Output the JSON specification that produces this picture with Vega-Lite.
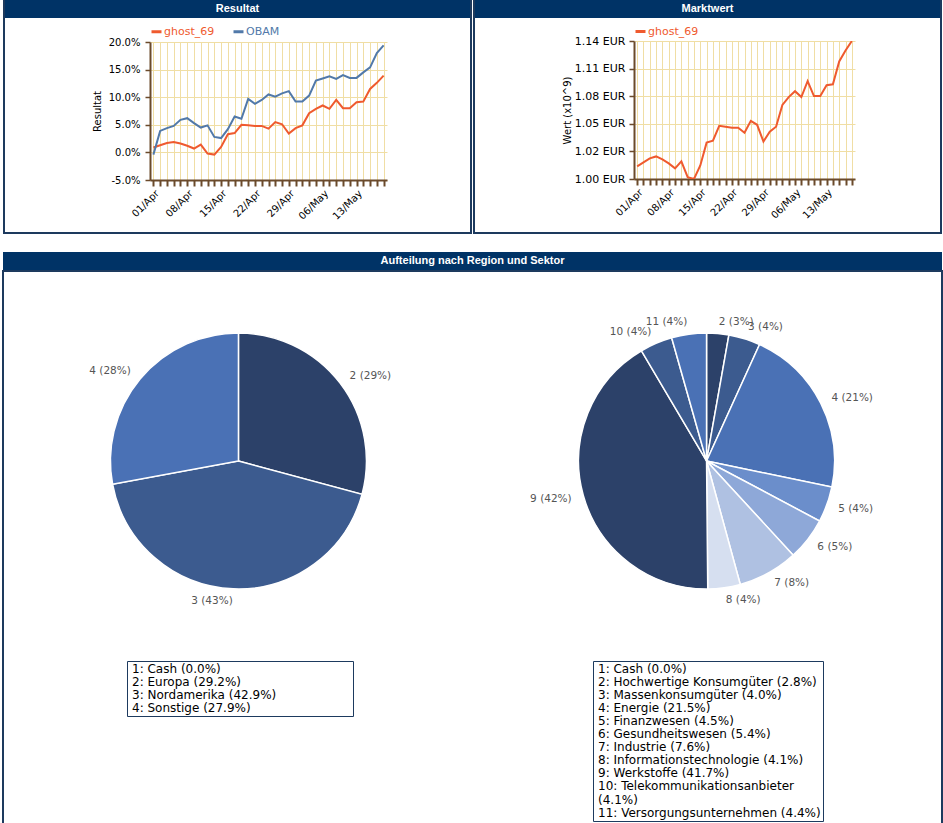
{
  "$schema": "https://vega.github.io/schema/vega-lite/v6.json",
  "background": "white",
  "padding": {"left": 2, "top": 0, "right": 0, "bottom": 0},
  "config": {
    "font": "DejaVu Sans",
    "view": {"stroke": null},
    "axis": {"labelFont": "DejaVu Sans", "titleFont": "DejaVu Sans", "labelColor": "#000000", "titleColor": "#000000", "titleFontWeight": "normal"},
    "legend": {"labelFont": "DejaVu Sans"}
  },
  "datasets": {
    "resultat": [
      {"tag": "2013-04-01", "serie": "ghost_69", "wert": 0.009}, {"tag": "2013-04-02", "serie": "ghost_69", "wert": 0.013}, {"tag": "2013-04-03", "serie": "ghost_69", "wert": 0.017}, {"tag": "2013-04-04", "serie": "ghost_69", "wert": 0.019}, {"tag": "2013-04-05", "serie": "ghost_69", "wert": 0.016},
      {"tag": "2013-04-08", "serie": "ghost_69", "wert": 0.012}, {"tag": "2013-04-09", "serie": "ghost_69", "wert": 0.007}, {"tag": "2013-04-10", "serie": "ghost_69", "wert": 0.014}, {"tag": "2013-04-11", "serie": "ghost_69", "wert": -0.002}, {"tag": "2013-04-12", "serie": "ghost_69", "wert": -0.004},
      {"tag": "2013-04-15", "serie": "ghost_69", "wert": 0.010}, {"tag": "2013-04-16", "serie": "ghost_69", "wert": 0.033}, {"tag": "2013-04-17", "serie": "ghost_69", "wert": 0.035}, {"tag": "2013-04-18", "serie": "ghost_69", "wert": 0.050}, {"tag": "2013-04-19", "serie": "ghost_69", "wert": 0.049},
      {"tag": "2013-04-22", "serie": "ghost_69", "wert": 0.048}, {"tag": "2013-04-23", "serie": "ghost_69", "wert": 0.048}, {"tag": "2013-04-24", "serie": "ghost_69", "wert": 0.043}, {"tag": "2013-04-25", "serie": "ghost_69", "wert": 0.055}, {"tag": "2013-04-26", "serie": "ghost_69", "wert": 0.051},
      {"tag": "2013-04-29", "serie": "ghost_69", "wert": 0.034}, {"tag": "2013-04-30", "serie": "ghost_69", "wert": 0.044}, {"tag": "2013-05-01", "serie": "ghost_69", "wert": 0.049}, {"tag": "2013-05-02", "serie": "ghost_69", "wert": 0.071}, {"tag": "2013-05-03", "serie": "ghost_69", "wert": 0.079},
      {"tag": "2013-05-06", "serie": "ghost_69", "wert": 0.085}, {"tag": "2013-05-07", "serie": "ghost_69", "wert": 0.079}, {"tag": "2013-05-08", "serie": "ghost_69", "wert": 0.095}, {"tag": "2013-05-09", "serie": "ghost_69", "wert": 0.080}, {"tag": "2013-05-10", "serie": "ghost_69", "wert": 0.080},
      {"tag": "2013-05-13", "serie": "ghost_69", "wert": 0.091}, {"tag": "2013-05-14", "serie": "ghost_69", "wert": 0.092}, {"tag": "2013-05-15", "serie": "ghost_69", "wert": 0.115}, {"tag": "2013-05-16", "serie": "ghost_69", "wert": 0.126}, {"tag": "2013-05-17", "serie": "ghost_69", "wert": 0.139},
      {"tag": "2013-04-01", "serie": "OBAM", "wert": -0.004}, {"tag": "2013-04-02", "serie": "OBAM", "wert": 0.039}, {"tag": "2013-04-03", "serie": "OBAM", "wert": 0.044}, {"tag": "2013-04-04", "serie": "OBAM", "wert": 0.048}, {"tag": "2013-04-05", "serie": "OBAM", "wert": 0.059},
      {"tag": "2013-04-08", "serie": "OBAM", "wert": 0.062}, {"tag": "2013-04-09", "serie": "OBAM", "wert": 0.053}, {"tag": "2013-04-10", "serie": "OBAM", "wert": 0.045}, {"tag": "2013-04-11", "serie": "OBAM", "wert": 0.049}, {"tag": "2013-04-12", "serie": "OBAM", "wert": 0.028},
      {"tag": "2013-04-15", "serie": "OBAM", "wert": 0.026}, {"tag": "2013-04-16", "serie": "OBAM", "wert": 0.042}, {"tag": "2013-04-17", "serie": "OBAM", "wert": 0.065}, {"tag": "2013-04-18", "serie": "OBAM", "wert": 0.061}, {"tag": "2013-04-19", "serie": "OBAM", "wert": 0.097},
      {"tag": "2013-04-22", "serie": "OBAM", "wert": 0.088}, {"tag": "2013-04-23", "serie": "OBAM", "wert": 0.095}, {"tag": "2013-04-24", "serie": "OBAM", "wert": 0.105}, {"tag": "2013-04-25", "serie": "OBAM", "wert": 0.101}, {"tag": "2013-04-26", "serie": "OBAM", "wert": 0.107},
      {"tag": "2013-04-29", "serie": "OBAM", "wert": 0.111}, {"tag": "2013-04-30", "serie": "OBAM", "wert": 0.092}, {"tag": "2013-05-01", "serie": "OBAM", "wert": 0.092}, {"tag": "2013-05-02", "serie": "OBAM", "wert": 0.103}, {"tag": "2013-05-03", "serie": "OBAM", "wert": 0.130},
      {"tag": "2013-05-06", "serie": "OBAM", "wert": 0.134}, {"tag": "2013-05-07", "serie": "OBAM", "wert": 0.138}, {"tag": "2013-05-08", "serie": "OBAM", "wert": 0.133}, {"tag": "2013-05-09", "serie": "OBAM", "wert": 0.140}, {"tag": "2013-05-10", "serie": "OBAM", "wert": 0.135},
      {"tag": "2013-05-13", "serie": "OBAM", "wert": 0.135}, {"tag": "2013-05-14", "serie": "OBAM", "wert": 0.145}, {"tag": "2013-05-15", "serie": "OBAM", "wert": 0.154}, {"tag": "2013-05-16", "serie": "OBAM", "wert": 0.180}, {"tag": "2013-05-17", "serie": "OBAM", "wert": 0.194}
    ],
    "marktwert": [
      {"tag": "2013-04-01", "serie": "ghost_69", "wert": 1.0128}, {"tag": "2013-04-02", "serie": "ghost_69", "wert": 1.0168}, {"tag": "2013-04-03", "serie": "ghost_69", "wert": 1.0209}, {"tag": "2013-04-04", "serie": "ghost_69", "wert": 1.0229}, {"tag": "2013-04-05", "serie": "ghost_69", "wert": 1.0199},
      {"tag": "2013-04-08", "serie": "ghost_69", "wert": 1.0158}, {"tag": "2013-04-09", "serie": "ghost_69", "wert": 1.0108}, {"tag": "2013-04-10", "serie": "ghost_69", "wert": 1.0179}, {"tag": "2013-04-11", "serie": "ghost_69", "wert": 1.0018}, {"tag": "2013-04-12", "serie": "ghost_69", "wert": 1.0000},
      {"tag": "2013-04-15", "serie": "ghost_69", "wert": 1.0138}, {"tag": "2013-04-16", "serie": "ghost_69", "wert": 1.0369}, {"tag": "2013-04-17", "serie": "ghost_69", "wert": 1.0389}, {"tag": "2013-04-18", "serie": "ghost_69", "wert": 1.0540}, {"tag": "2013-04-19", "serie": "ghost_69", "wert": 1.0530},
      {"tag": "2013-04-22", "serie": "ghost_69", "wert": 1.0520}, {"tag": "2013-04-23", "serie": "ghost_69", "wert": 1.0520}, {"tag": "2013-04-24", "serie": "ghost_69", "wert": 1.0470}, {"tag": "2013-04-25", "serie": "ghost_69", "wert": 1.0590}, {"tag": "2013-04-26", "serie": "ghost_69", "wert": 1.0550},
      {"tag": "2013-04-29", "serie": "ghost_69", "wert": 1.0379}, {"tag": "2013-04-30", "serie": "ghost_69", "wert": 1.0480}, {"tag": "2013-05-01", "serie": "ghost_69", "wert": 1.0530}, {"tag": "2013-05-02", "serie": "ghost_69", "wert": 1.0751}, {"tag": "2013-05-03", "serie": "ghost_69", "wert": 1.0831},
      {"tag": "2013-05-06", "serie": "ghost_69", "wert": 1.0891}, {"tag": "2013-05-07", "serie": "ghost_69", "wert": 1.0831}, {"tag": "2013-05-08", "serie": "ghost_69", "wert": 1.0992}, {"tag": "2013-05-09", "serie": "ghost_69", "wert": 1.0841}, {"tag": "2013-05-10", "serie": "ghost_69", "wert": 1.0841},
      {"tag": "2013-05-13", "serie": "ghost_69", "wert": 1.0951}, {"tag": "2013-05-14", "serie": "ghost_69", "wert": 1.0961}, {"tag": "2013-05-15", "serie": "ghost_69", "wert": 1.1192}, {"tag": "2013-05-16", "serie": "ghost_69", "wert": 1.1303}, {"tag": "2013-05-17", "serie": "ghost_69", "wert": 1.1400}
    ],
    "aufteilung": [
      {"diagramm": "Region", "nr": 1, "pct": 0.0, "legende": "1: Cash (0.0%)", "kurz": "1 (0%)"},
      {"diagramm": "Region", "nr": 2, "pct": 29.2, "legende": "2: Europa (29.2%)", "kurz": "2 (29%)"},
      {"diagramm": "Region", "nr": 3, "pct": 42.9, "legende": "3: Nordamerika (42.9%)", "kurz": "3 (43%)"},
      {"diagramm": "Region", "nr": 4, "pct": 27.9, "legende": "4: Sonstige (27.9%)", "kurz": "4 (28%)"},
      {"diagramm": "Sektor", "nr": 1, "pct": 0.0, "legende": "1: Cash (0.0%)", "kurz": "1 (0%)"},
      {"diagramm": "Sektor", "nr": 2, "pct": 2.8, "legende": "2: Hochwertige Konsumgüter (2.8%)", "kurz": "2 (3%)"},
      {"diagramm": "Sektor", "nr": 3, "pct": 4.0, "legende": "3: Massenkonsumgüter (4.0%)", "kurz": "3 (4%)"},
      {"diagramm": "Sektor", "nr": 4, "pct": 21.5, "legende": "4: Energie (21.5%)", "kurz": "4 (21%)"},
      {"diagramm": "Sektor", "nr": 5, "pct": 4.5, "legende": "5: Finanzwesen (4.5%)", "kurz": "5 (4%)"},
      {"diagramm": "Sektor", "nr": 6, "pct": 5.4, "legende": "6: Gesundheitswesen (5.4%)", "kurz": "6 (5%)"},
      {"diagramm": "Sektor", "nr": 7, "pct": 7.6, "legende": "7: Industrie (7.6%)", "kurz": "7 (8%)"},
      {"diagramm": "Sektor", "nr": 8, "pct": 4.1, "legende": "8: Informationstechnologie (4.1%)", "kurz": "8 (4%)"},
      {"diagramm": "Sektor", "nr": 9, "pct": 41.7, "legende": "9: Werkstoffe (41.7%)", "kurz": "9 (42%)"},
      {"diagramm": "Sektor", "nr": 10, "pct": 4.1, "legende": "10: Telekommunikationsanbieter (4.1%)", "kurz": "10 (4%)"},
      {"diagramm": "Sektor", "nr": 11, "pct": 4.4, "legende": "11: Versorgungsunternehmen (4.4%)", "kurz": "11 (4%)"}
    ]
  },
  "vconcat": [
    {
      "hconcat": [
        {
          "vconcat": [
            {
              "hconcat": [
                {"width": 2, "height": 232, "view": {"fill": "#1d3a5e", "stroke": null}, "data": {"values": []}, "mark": {"type": "point"}, "encoding": {}},
                {
                  "vconcat": [
                    {
                      "width": 465, "height": 18,
                      "view": {"fill": "#003366", "stroke": null},
                      "data": {"values": [{"titel": "Resultat"}]},
                      "mark": {"type": "text", "color": "white", "font": "Liberation Sans", "fontWeight": "bold", "fontSize": 11, "baseline": "middle"},
                      "encoding": {"text": {"field": "titel"}}
                    },
                    {
                      "hconcat": [
                        {"width": 87, "height": 10, "data": {"values": []}, "mark": {"type": "point"}, "encoding": {}},
                        {
                          "width": 237, "height": 138,
                          "data": {"name": "resultat"},
                          "mark": {"type": "line", "strokeWidth": 2},
                          "encoding": {
                            "x": {"field": "tag", "type": "ordinal", "scale": {"type": "point", "padding": 0.5},
                              "axis": {"title": null, "grid": true, "gridColor": "#f0dea4", "domainColor": "#6b4a2b", "domainWidth": 2, "tickColor": "#6b4a2b", "tickWidth": 2, "tickSize": 6, "labelAngle": -45, "labelFontSize": 10, "labelOverlap": false, "labelPadding": 2,
                                "labelExpr": "utcday(toDate(datum.value)) == 1 ? utcFormat(toDate(datum.value), '%d/%b') : ''"}},
                            "y": {"field": "wert", "type": "quantitative", "scale": {"domain": [-0.05, 0.2], "nice": false, "zero": false},
                              "axis": {"title": "Resultat", "titleFontSize": 10, "titlePadding": 6, "values": [-0.05, 0, 0.05, 0.1, 0.15, 0.2], "format": ".1%", "labelExpr": "replace(datum.label, '\u2212', '-')", "grid": true, "gridColor": "#f0dea4", "domainColor": "#6b4a2b", "domainWidth": 2, "tickColor": "#6b4a2b", "tickWidth": 1.5, "tickSize": 5, "labelFontSize": 10, "labelPadding": 5}},
                            "color": {"field": "serie", "type": "nominal", "scale": {"domain": ["ghost_69", "OBAM"], "range": ["#ef5a2e", "#5179a9"]},
                              "legend": {"orient": "top", "direction": "horizontal", "title": null, "offset": 3, "padding": 0, "symbolType": "stroke", "symbolStrokeWidth": 3, "symbolSize": 100, "labelFontSize": 11, "labelOffset": 1, "columnPadding": 12,
                                "encode": {"labels": {"update": {"fill": {"signal": "datum.value === 'OBAM' ? '#5179a9' : '#ef5a2e'"}}}}}}
                          }
                        }
                      ],
                      "spacing": 0,
                      "resolve": {"scale": {"color": "independent"}}
                    }
                  ],
                  "spacing": 7,
                  "resolve": {"scale": {"color": "independent"}}
                },
                {"width": 2, "height": 232, "view": {"fill": "#1d3a5e", "stroke": null}, "data": {"values": []}, "mark": {"type": "point"}, "encoding": {}}
              ],
              "spacing": 0,
              "resolve": {"scale": {"color": "independent"}}
            },
            {"width": 469, "height": 2, "view": {"fill": "#1d3a5e", "stroke": null}, "data": {"values": []}, "mark": {"type": "point"}, "encoding": {}}
          ],
          "spacing": 0,
          "resolve": {"scale": {"color": "independent"}}
        },
        {
          "vconcat": [
            {
              "hconcat": [
                {"width": 2, "height": 232, "view": {"fill": "#1d3a5e", "stroke": null}, "data": {"values": []}, "mark": {"type": "point"}, "encoding": {}},
                {
                  "vconcat": [
                    {
                      "width": 465, "height": 18,
                      "view": {"fill": "#003366", "stroke": null},
                      "data": {"values": [{"titel": "Marktwert"}]},
                      "mark": {"type": "text", "color": "white", "font": "Liberation Sans", "fontWeight": "bold", "fontSize": 11, "baseline": "middle"},
                      "encoding": {"text": {"field": "titel"}}
                    },
                    {
                      "hconcat": [
                        {"width": 87, "height": 10, "data": {"values": []}, "mark": {"type": "point"}, "encoding": {}},
                        {
                          "width": 221, "height": 138,
                          "data": {"name": "marktwert"},
                          "mark": {"type": "line", "strokeWidth": 2, "clip": true},
                          "encoding": {
                            "x": {"field": "tag", "type": "ordinal", "scale": {"type": "point", "padding": 0.5},
                              "axis": {"title": null, "grid": true, "gridColor": "#f0dea4", "domainColor": "#6b4a2b", "domainWidth": 2, "tickColor": "#6b4a2b", "tickWidth": 2, "tickSize": 6, "labelAngle": -45, "labelFontSize": 10, "labelOverlap": false, "labelPadding": 2,
                                "labelExpr": "utcday(toDate(datum.value)) == 1 ? utcFormat(toDate(datum.value), '%d/%b') : ''"}},
                            "y": {"field": "wert", "type": "quantitative", "scale": {"domain": [1.0, 1.14], "nice": false, "zero": false},
                              "axis": {"title": "Wert (x10^9)", "titleFontSize": 10, "titlePadding": 2, "values": [1.0, 1.028, 1.056, 1.084, 1.112, 1.14], "labelExpr": "format(floor(datum.value * 100 + 0.000001) / 100, '.2f') + ' EUR'", "grid": true, "gridColor": "#f0dea4", "domainColor": "#6b4a2b", "domainWidth": 2, "tickColor": "#6b4a2b", "tickWidth": 1.5, "tickSize": 5, "labelFontSize": 11, "labelPadding": 4}},
                            "color": {"field": "serie", "type": "nominal", "scale": {"domain": ["ghost_69"], "range": ["#ef5a2e"]},
                              "legend": {"orient": "top", "direction": "horizontal", "title": null, "offset": 3, "padding": 0, "symbolType": "stroke", "symbolStrokeWidth": 3, "symbolSize": 100, "labelFontSize": 11, "labelOffset": 1, "labelColor": "#ef5a2e"}}
                          }
                        }
                      ],
                      "spacing": 0,
                      "resolve": {"scale": {"color": "independent"}}
                    }
                  ],
                  "spacing": 7,
                  "resolve": {"scale": {"color": "independent"}}
                },
                {"width": 2, "height": 232, "view": {"fill": "#1d3a5e", "stroke": null}, "data": {"values": []}, "mark": {"type": "point"}, "encoding": {}}
              ],
              "spacing": 0,
              "resolve": {"scale": {"color": "independent"}}
            },
            {"width": 469, "height": 2, "view": {"fill": "#1d3a5e", "stroke": null}, "data": {"values": []}, "mark": {"type": "point"}, "encoding": {}}
          ],
          "spacing": 0,
          "resolve": {"scale": {"color": "independent"}}
        }
      ],
      "spacing": 1,
      "resolve": {"scale": {"color": "independent"}}
    },
    {
      "vconcat": [
        {
          "width": 939, "height": 18,
          "view": {"fill": "#003366", "stroke": null},
          "data": {"values": [{"titel": "Aufteilung nach Region und Sektor"}]},
          "mark": {"type": "text", "color": "white", "font": "Liberation Sans", "fontWeight": "bold", "fontSize": 11, "baseline": "middle"},
          "encoding": {"text": {"field": "titel"}}
        },
        {
          "width": 939, "height": 553,
          "view": {"fill": "white", "stroke": "#1d3a5e", "strokeWidth": 2},
          "data": {"name": "aufteilung"},
          "layer": [
            {
              "transform": [{"filter": "datum.diagramm == 'Region'"}],
              "mark": {"type": "arc", "radius": 128, "stroke": "white", "strokeWidth": 1.5},
              "encoding": {
                "x": {"field": "diagramm", "type": "nominal", "scale": {"type": "point", "domain": ["Region", "Sektor"], "padding": 0.503}, "axis": null},
                "y": {"datum": "Diagramm", "type": "nominal", "scale": {"type": "point", "domain": ["Diagramm", "Legende"], "padding": 1, "align": 0.5153}, "axis": null},
                "theta": {"field": "pct", "type": "quantitative", "stack": "normalize"},
                "order": {"field": "nr", "type": "quantitative"},
                "color": {"field": "legende", "type": "nominal",
                  "scale": {"domain": ["1: Cash (0.0%)", "2: Europa (29.2%)", "3: Nordamerika (42.9%)", "4: Sonstige (27.9%)"], "range": ["#d6dff0", "#2c4169", "#3c5b8f", "#4a71b5"]},
                  "legend": {"orient": "none", "legendX": 124, "legendY": 390, "title": null, "strokeColor": "#1d3a5e", "fillColor": "white", "padding": 2, "labelFontSize": 12, "labelColor": "#000000", "symbolType": "M0,0H216", "symbolSize": 4, "symbolOpacity": 0, "symbolStrokeWidth": 0, "labelOffset": -9, "rowPadding": 1, "labelLimit": 400}}
              }
            },
            {
              "transform": [{"filter": "datum.diagramm == 'Sektor'"}],
              "mark": {"type": "arc", "radius": 128, "stroke": "white", "strokeWidth": 1.5},
              "encoding": {
                "x": {"field": "diagramm", "type": "nominal", "scale": {"type": "point", "domain": ["Region", "Sektor"], "padding": 0.503}, "axis": null},
                "y": {"datum": "Diagramm", "type": "nominal", "scale": {"type": "point", "domain": ["Diagramm", "Legende"], "padding": 1, "align": 0.5153}, "axis": null},
                "theta": {"field": "pct", "type": "quantitative", "stack": "normalize"},
                "order": {"field": "nr", "type": "quantitative"},
                "color": {"field": "legende", "type": "nominal",
                  "scale": {"domain": ["1: Cash (0.0%)", "2: Hochwertige Konsumgüter (2.8%)", "3: Massenkonsumgüter (4.0%)", "4: Energie (21.5%)", "5: Finanzwesen (4.5%)", "6: Gesundheitswesen (5.4%)", "7: Industrie (7.6%)", "8: Informationstechnologie (4.1%)", "9: Werkstoffe (41.7%)", "10: Telekommunikationsanbieter (4.1%)", "11: Versorgungsunternehmen (4.4%)"],
                    "range": ["#d6dff0", "#2c4169", "#3c5b8f", "#4a71b5", "#6b8ecb", "#8ea8d8", "#afc1e2", "#d6dff0", "#2c4169", "#3c5b8f", "#4a71b5"]},
                  "legend": {"orient": "none", "legendX": 590, "legendY": 390, "title": null, "strokeColor": "#1d3a5e", "fillColor": "white", "padding": 2, "labelFontSize": 12, "labelColor": "#000000", "symbolType": "M0,0H216", "symbolSize": 4, "symbolOpacity": 0, "symbolStrokeWidth": 0, "labelOffset": -9, "rowPadding": 1, "labelLimit": 400,
                    "labelExpr": "length(datum.label) > 35 ? [substring(datum.label, 0, indexof(datum.label, ' (')), substring(datum.label, indexof(datum.label, ' (') + 1)] : datum.label"}}
              }
            },
            {
              "transform": [{"filter": "datum.diagramm == 'Region' && datum.pct > 0"}],
              "mark": {"type": "text", "radius": 140, "fontSize": 10.5, "color": "#555555", "baseline": "middle", "align": {"expr": "sin(PI * (datum.pct_start + datum.pct_end)) < 0 ? 'right' : 'left'"}},
              "encoding": {
                "x": {"field": "diagramm", "type": "nominal", "scale": {"type": "point", "domain": ["Region", "Sektor"], "padding": 0.503}, "axis": null},
                "y": {"datum": "Diagramm", "type": "nominal", "scale": {"type": "point", "domain": ["Diagramm", "Legende"], "padding": 1, "align": 0.5153}, "axis": null},
                "theta": {"field": "pct", "type": "quantitative", "stack": "normalize"},
                "order": {"field": "nr", "type": "quantitative"},
                "text": {"field": "kurz"}
              }
            },
            {
              "transform": [{"filter": "datum.diagramm == 'Sektor' && datum.pct > 0"}],
              "mark": {"type": "text", "radius": 140, "fontSize": 10.5, "color": "#555555", "baseline": "middle", "align": {"expr": "sin(PI * (datum.pct_start + datum.pct_end)) < 0 ? 'right' : 'left'"}},
              "encoding": {
                "x": {"field": "diagramm", "type": "nominal", "scale": {"type": "point", "domain": ["Region", "Sektor"], "padding": 0.503}, "axis": null},
                "y": {"datum": "Diagramm", "type": "nominal", "scale": {"type": "point", "domain": ["Diagramm", "Legende"], "padding": 1, "align": 0.5153}, "axis": null},
                "theta": {"field": "pct", "type": "quantitative", "stack": "normalize"},
                "order": {"field": "nr", "type": "quantitative"},
                "text": {"field": "kurz"}
              }
            }
          ],
          "resolve": {"scale": {"color": "independent"}}
        }
      ],
      "spacing": 0,
      "resolve": {"scale": {"color": "independent"}}
    }
  ],
  "spacing": 18,
  "resolve": {"scale": {"color": "independent"}}
}
